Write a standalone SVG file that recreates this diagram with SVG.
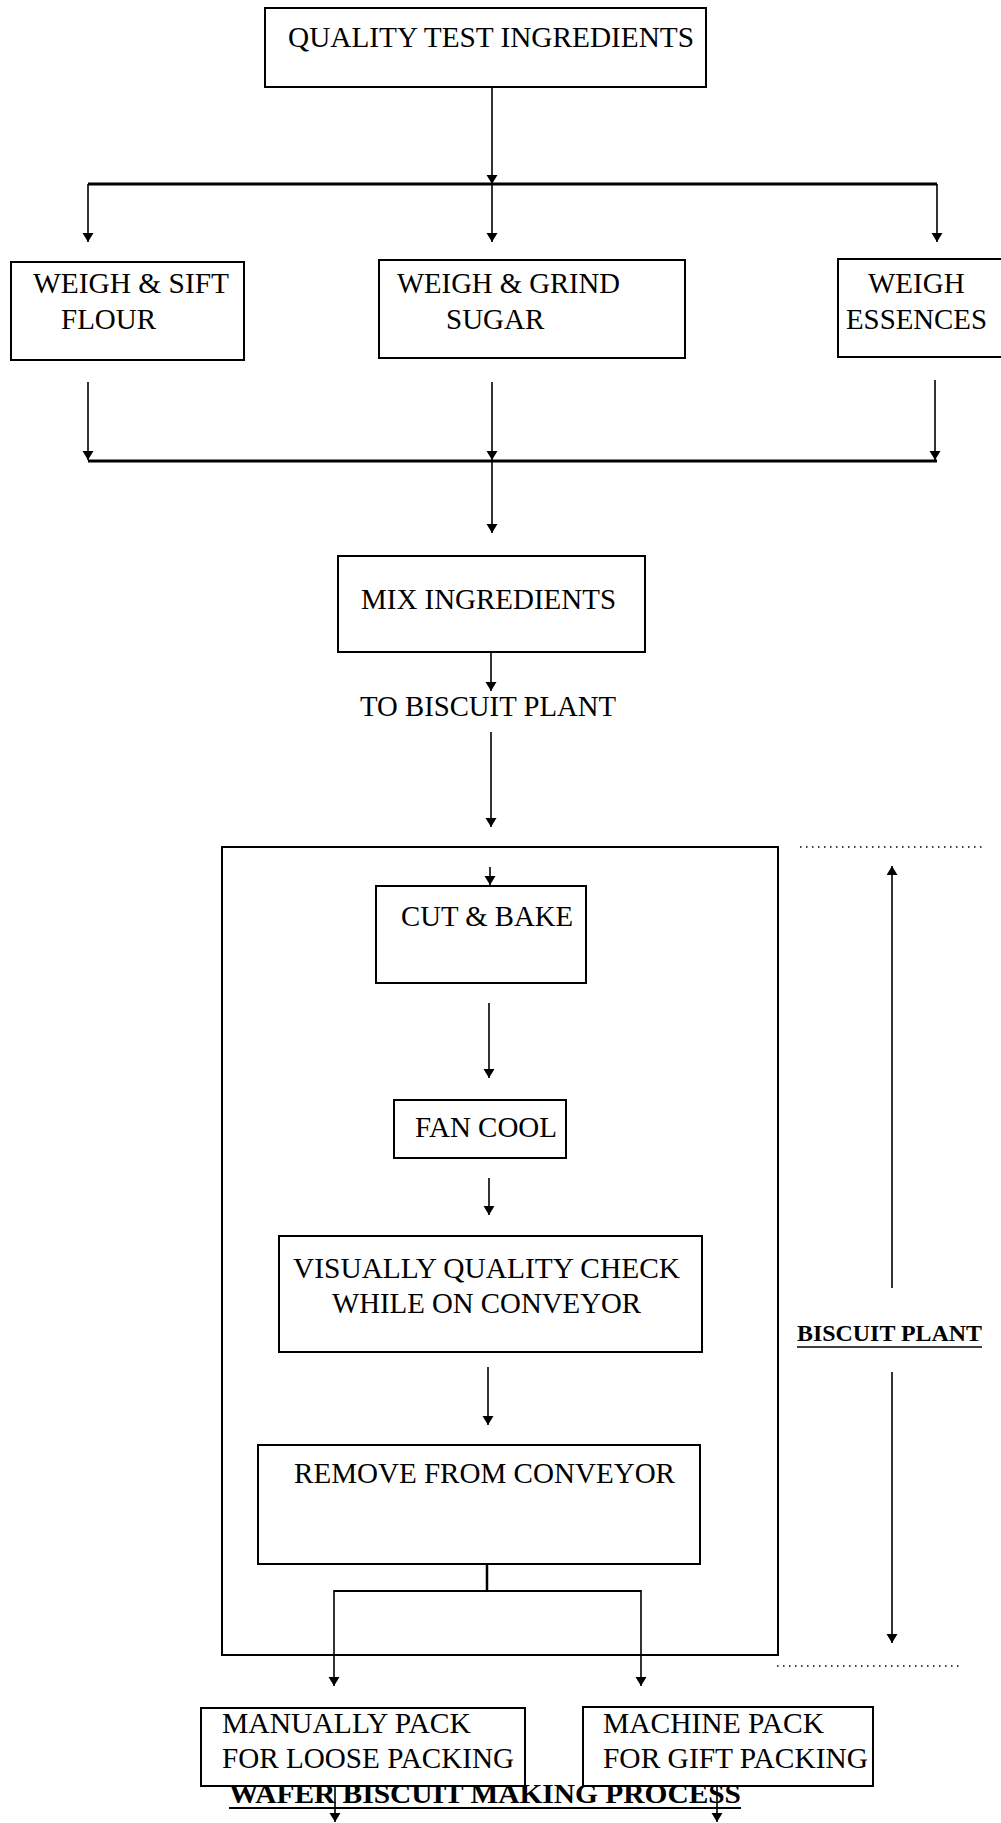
<svg xmlns="http://www.w3.org/2000/svg" width="1001" height="1823" viewBox="0 0 1001 1823">
<style>
  .box { fill: none; stroke: #000; stroke-width: 2; }
  .t { font-family: "Liberation Serif", "Times New Roman", serif; font-size: 29px; fill: #000; }
  .b { font-family: "Liberation Serif", "Times New Roman", serif; font-weight: bold; fill: #000; }
  .ln { stroke: #000; stroke-width: 1.6; fill: none; }
  .arr { stroke: #000; stroke-width: 1.6; fill: none; marker-end: url(#ah); }
  .bus { stroke: #000; stroke-width: 3; fill: none; }
  .dot { stroke: #000; stroke-width: 1.5; stroke-dasharray: 1.5 4.5; fill: none; }
</style>
<defs>
  <marker id="ah" markerUnits="userSpaceOnUse" markerWidth="10" markerHeight="12" refX="9" refY="5.5" orient="auto">
    <path d="M0,0 L9,5.5 L0,11 z" fill="#000"/>
  </marker>
</defs>
<rect width="1001" height="1823" fill="#fff"/>

<g id="quality-test">
  <rect class="box" x="265" y="8" width="441" height="79"/>
  <text class="t" x="288" y="47" textLength="406" lengthAdjust="spacingAndGlyphs">QUALITY TEST INGREDIENTS</text>
</g>
<g id="weigh-flour">
  <rect class="box" x="11" y="262" width="233" height="98"/>
  <text class="t" x="33" y="293" textLength="196" lengthAdjust="spacingAndGlyphs">WEIGH &amp; SIFT</text>
  <text class="t" x="61" y="329">FLOUR</text>
</g>
<g id="weigh-sugar">
  <rect class="box" x="379" y="260" width="306" height="98"/>
  <text class="t" x="397" y="293" textLength="223" lengthAdjust="spacingAndGlyphs">WEIGH &amp; GRIND</text>
  <text class="t" x="446" y="329">SUGAR</text>
</g>
<g id="weigh-essences">
  <rect class="box" x="838" y="259" width="175" height="98"/>
  <text class="t" x="868" y="293">WEIGH</text>
  <text class="t" x="846" y="329" textLength="141" lengthAdjust="spacingAndGlyphs">ESSENCES</text>
</g>
<g id="mix">
  <rect class="box" x="338" y="556" width="307" height="96"/>
  <text class="t" x="361" y="609" textLength="255" lengthAdjust="spacingAndGlyphs">MIX INGREDIENTS</text>
</g>
<g id="to-plant">
  <text class="t" x="360" y="716" textLength="256" lengthAdjust="spacingAndGlyphs">TO BISCUIT PLANT</text>
</g>
<g id="biscuit-plant-frame">
  <rect class="box" x="222" y="847" width="556" height="808"/>
</g>
<g id="cut-bake">
  <rect class="box" x="376" y="886" width="210" height="97"/>
  <text class="t" x="401" y="926" textLength="172" lengthAdjust="spacingAndGlyphs">CUT &amp; BAKE</text>
</g>
<g id="fan-cool">
  <rect class="box" x="394" y="1100" width="172" height="58"/>
  <text class="t" x="415" y="1137" textLength="142" lengthAdjust="spacingAndGlyphs">FAN COOL</text>
</g>
<g id="visual-check">
  <rect class="box" x="279" y="1236" width="423" height="116"/>
  <text class="t" x="293" y="1278" textLength="387" lengthAdjust="spacingAndGlyphs">VISUALLY QUALITY CHECK</text>
  <text class="t" x="332" y="1313" textLength="309" lengthAdjust="spacingAndGlyphs">WHILE ON CONVEYOR</text>
</g>
<g id="remove">
  <rect class="box" x="258" y="1445" width="442" height="119"/>
  <text class="t" x="294" y="1483" textLength="381" lengthAdjust="spacingAndGlyphs">REMOVE FROM CONVEYOR</text>
</g>
<g id="manual-pack">
  <rect class="box" x="201" y="1708" width="324" height="78"/>
  <text class="t" x="222" y="1733" textLength="249" lengthAdjust="spacingAndGlyphs">MANUALLY PACK</text>
  <text class="t" x="222" y="1768" textLength="292" lengthAdjust="spacingAndGlyphs">FOR LOOSE PACKING</text>
</g>
<g id="machine-pack">
  <rect class="box" x="583" y="1707" width="290" height="79"/>
  <text class="t" x="603" y="1733" textLength="221" lengthAdjust="spacingAndGlyphs">MACHINE PACK</text>
  <text class="t" x="603" y="1768" textLength="265" lengthAdjust="spacingAndGlyphs">FOR GIFT PACKING</text>
</g>
<g id="biscuit-plant-label">
  <text class="b" x="797" y="1341" font-size="24" textLength="185" lengthAdjust="spacingAndGlyphs">BISCUIT PLANT</text>
  <line class="ln" x1="797" y1="1347" x2="982" y2="1347"/>
</g>
<g id="title">
  <text class="b" x="229" y="1803" font-size="28" textLength="512" lengthAdjust="spacingAndGlyphs">WAFER BISCUIT MAKING PROCESS</text>
  <line stroke="#000" stroke-width="2" x1="229" y1="1808" x2="741" y2="1808"/>
</g>

<g id="connectors">
  <line class="arr" x1="492" y1="87" x2="492" y2="184"/>
  <line class="bus" x1="88" y1="184" x2="937" y2="184"/>
  <line class="arr" x1="88" y1="184" x2="88" y2="242"/>
  <line class="arr" x1="492" y1="184" x2="492" y2="242"/>
  <line class="arr" x1="937" y1="184" x2="937" y2="242"/>
  <line class="arr" x1="88" y1="382" x2="88" y2="460"/>
  <line class="arr" x1="492" y1="382" x2="492" y2="460"/>
  <line class="arr" x1="935" y1="380" x2="935" y2="460"/>
  <line class="bus" x1="88" y1="461" x2="937" y2="461"/>
  <line class="arr" x1="492" y1="461" x2="492" y2="533"/>
  <line class="arr" x1="491" y1="652" x2="491" y2="691"/>
  <line class="arr" x1="491" y1="732" x2="491" y2="827"/>
  <line class="arr" x1="490" y1="867" x2="490" y2="885"/>
  <line class="arr" x1="489" y1="1003" x2="489" y2="1078"/>
  <line class="arr" x1="489" y1="1178" x2="489" y2="1215"/>
  <line class="arr" x1="488" y1="1367" x2="488" y2="1425"/>
  <line stroke="#000" stroke-width="2.5" x1="487" y1="1564" x2="487" y2="1591"/>
  <line stroke="#000" stroke-width="2" x1="334" y1="1591" x2="641" y2="1591"/>
  <line class="arr" x1="334" y1="1590" x2="334" y2="1686"/>
  <line class="arr" x1="641" y1="1590" x2="641" y2="1686"/>
  <line class="arr" x1="335" y1="1786" x2="335" y2="1822"/>
  <line class="arr" x1="717" y1="1786" x2="717" y2="1822"/>
  <line class="arr" x1="892" y1="1288" x2="892" y2="866"/>
  <line class="arr" x1="892" y1="1372" x2="892" y2="1643"/>
  <line class="dot" x1="800" y1="847" x2="986" y2="847"/>
  <line class="dot" x1="777" y1="1666" x2="963" y2="1666"/>
</g>
</svg>
